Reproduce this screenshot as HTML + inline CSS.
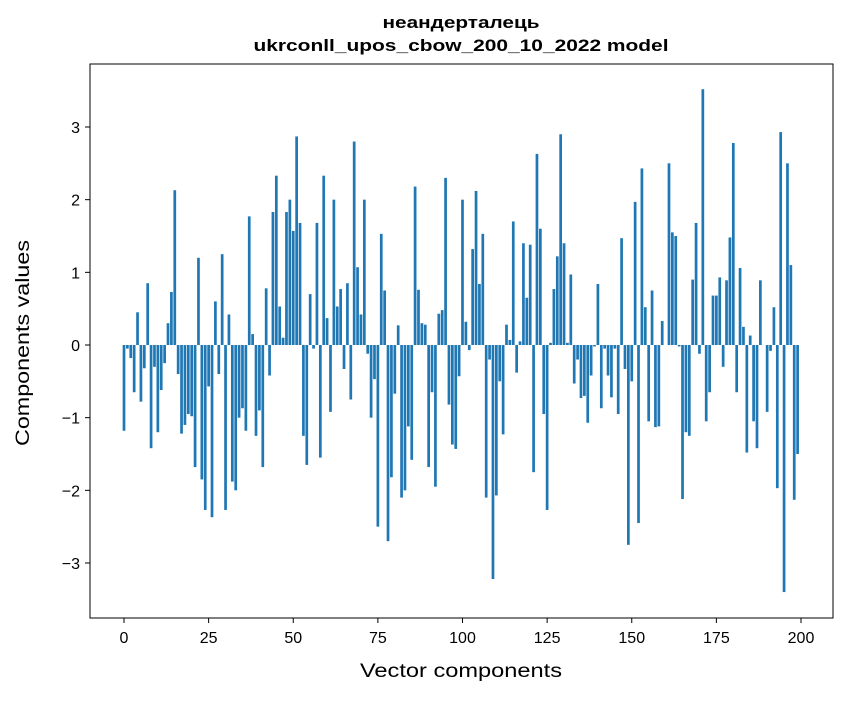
<!DOCTYPE html>
<html><head><meta charset="utf-8"><style>
body{margin:0;background:#fff;}
svg text{font-family:"Liberation Sans","DejaVu Sans",sans-serif;fill:#000;}
</style></head><body>
<svg id="chart" width="847" height="696" xmlns="http://www.w3.org/2000/svg">
<rect width="847" height="696" fill="#fff"/>
<text x="461" y="28" text-anchor="middle" font-size="17" font-weight="bold" textLength="157" lengthAdjust="spacingAndGlyphs">неандерталець</text>
<text x="461" y="51" text-anchor="middle" font-size="17" font-weight="bold" textLength="415" lengthAdjust="spacingAndGlyphs">ukrconll_upos_cbow_200_10_2022 model</text>
<g id="bars"></g>
<g id="axes"></g>
<rect x="90" y="64" width="743" height="554" fill="none" stroke="#000" stroke-width="1"/>
<text x="461" y="677" text-anchor="middle" font-size="19" textLength="202" lengthAdjust="spacingAndGlyphs">Vector components</text>
<text transform="translate(29,343) rotate(-90)" text-anchor="middle" font-size="19" textLength="206" lengthAdjust="spacingAndGlyphs">Components values</text>
</svg>
<script>
const values = [-1.18,-0.05,-0.18,-0.65,0.45,-0.78,-0.32,0.85,-1.42,-0.3,-1.2,-0.62,-0.25,0.3,0.73,2.13,-0.4,-1.22,-1.1,-0.95,-0.98,-1.68,1.2,-1.85,-2.27,-0.57,-2.37,0.6,-0.4,1.25,-2.27,0.42,-1.88,-2.0,-1.0,-0.87,-1.18,1.77,0.15,-1.25,-0.9,-1.68,0.78,-0.42,1.83,2.33,0.53,0.1,1.83,2.0,1.57,2.87,1.68,-1.25,-1.65,0.7,-0.05,1.68,-1.55,2.33,0.37,-0.92,2.0,0.53,0.77,-0.33,0.85,-0.75,2.8,1.07,0.42,2.0,-0.12,-1.0,-0.47,-2.5,1.53,0.75,-2.7,-1.82,-0.67,0.27,-2.1,-2.0,-1.12,-1.58,2.18,0.76,0.3,0.28,-1.68,-0.65,-1.95,0.43,0.48,2.3,-0.82,-1.37,-1.43,-0.43,2.0,0.32,-0.07,1.32,2.12,0.84,1.53,-2.1,-0.2,-3.22,-2.07,-0.5,-1.23,0.28,0.07,1.7,-0.38,0.05,1.4,0.65,1.38,-1.75,2.63,1.6,-0.95,-2.27,0.03,0.77,1.22,2.9,1.4,0.03,0.97,-0.53,-0.2,-0.73,-0.7,-1.07,-0.42,-0.02,0.84,-0.87,-0.05,-0.42,-0.72,-0.05,-0.95,1.47,-0.33,-2.75,-0.5,1.97,-2.45,2.43,0.52,-1.05,0.75,-1.13,-1.12,0.33,0.0,2.5,1.55,1.5,-0.02,-2.12,-1.2,-1.25,0.9,1.68,-0.12,3.52,-1.05,-0.65,0.68,0.68,0.93,-0.3,0.89,1.48,2.78,-0.65,1.06,0.25,-1.48,0.13,-1.05,-1.42,0.89,0.0,-0.92,-0.08,0.52,-1.97,2.93,-3.4,2.5,1.1,-2.13,-1.5];
const xTicks = [0,25,50,75,100,125,150,175,200];
const yTicks = [-3,-2,-1,0,1,2,3];
const yTickLabels = ["\u22123","\u22122","\u22121","0","1","2","3"];

const NS = "http://www.w3.org/2000/svg";
const xScale = v => 124 + v * (801 - 124) / 200;
const yScale = v => 345 - v * (345 - 127) / 3;
const bw = 0.8 * (801 - 124) / 200;

const barsG = document.getElementById('bars');
values.forEach((v, i) => {
  const r = document.createElementNS(NS, 'rect');
  
  
  const y0 = yScale(0), y1 = yScale(v);
  r.setAttribute('x', xScale(i) - bw / 2);
  r.setAttribute('y', Math.min(y0, y1));
  r.setAttribute('width', bw);
  r.setAttribute('height', Math.max(Math.abs(y1 - y0), 0.01));
  r.setAttribute('fill', '#1f77b4');
  barsG.appendChild(r);
});

const axesG = document.getElementById('axes');
xTicks.forEach(t => {
  const x = xScale(t);
  const l = document.createElementNS(NS, 'line');
  
  
  l.setAttribute('x1', x); l.setAttribute('x2', x);
  l.setAttribute('y1', 618); l.setAttribute('y2', 623);
  l.setAttribute('stroke', '#000');
  axesG.appendChild(l);
  const tx = document.createElementNS(NS, 'text');
  
  
  tx.setAttribute('x', x); tx.setAttribute('y', 643);
  tx.setAttribute('text-anchor', 'middle');
  tx.setAttribute('font-size', '16');
  tx.textContent = String(t);
  axesG.appendChild(tx);
});
yTicks.forEach((t, i) => {
  const y = yScale(t);
  const l = document.createElementNS(NS, 'line');
  
  
  l.setAttribute('x1', 85); l.setAttribute('x2', 90);
  l.setAttribute('y1', y); l.setAttribute('y2', y);
  l.setAttribute('stroke', '#000');
  axesG.appendChild(l);
  const tx = document.createElementNS(NS, 'text');
  
  
  tx.setAttribute('x', 80); tx.setAttribute('y', y + 6);
  tx.setAttribute('text-anchor', 'end');
  tx.setAttribute('font-size', '16');
  tx.textContent = yTickLabels[i];
  axesG.appendChild(tx);
});
</script>
</body></html>
